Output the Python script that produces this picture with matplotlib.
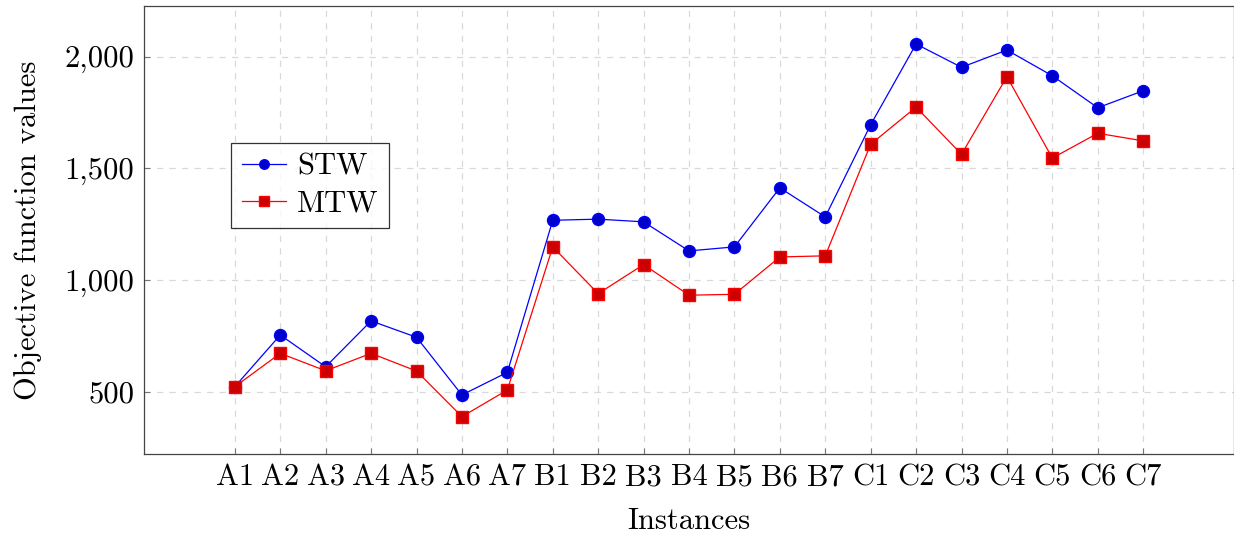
import numpy as np
import matplotlib
matplotlib.use("Agg")
import matplotlib.pyplot as plt
from matplotlib.ticker import FuncFormatter

# data
instances = ["A1", "A2", "A3", "A4", "A5", "A6", "A7",
             "B1", "B2", "B3", "B4", "B5", "B6", "B7",
             "C1", "C2", "C3", "C4", "C5", "C6", "C7"]
stw = [524, 755, 613, 818, 745, 487, 588,
       1268, 1273, 1261, 1131, 1149, 1413, 1283,
       1695, 2056, 1952, 2029, 1914, 1771, 1847]
mtw = [524, 673, 595, 673, 594, 390, 509,
       1149, 940, 1070, 933, 937, 1104, 1109,
       1608, 1774, 1563, 1910, 1546, 1657, 1623]

plt.rcParams['font.family'] = ['cmr10', 'DejaVu Serif']
plt.rcParams['axes.formatter.use_mathtext'] = True

fig = plt.figure(figsize=(12.34, 5.38), dpi=100)
ax = fig.add_axes([144 / 1234, 84 / 538, 1090 / 1234, 448 / 538])

x = np.arange(len(instances))
ax.plot(x, stw, color='blue', linewidth=0.9, marker='o', markersize=8.6,
        markerfacecolor='#0000cc', markeredgecolor='blue', label='STW', zorder=3)
ax.plot(x, mtw, color='red', linewidth=0.9, marker='s', markersize=8.2,
        markerfacecolor='#cc0000', markeredgecolor='red', label='MTW', zorder=3)

ax.set_xlim(-2, len(instances) + 1)
ax.set_ylim(223, 2226)
ax.set_xticks(x)
ax.set_xticklabels(instances)
ax.set_yticks([500, 1000, 1500, 2000])
ax.yaxis.set_major_formatter(FuncFormatter(lambda v, p: f"{int(v):,}"))

ax.grid(True, linestyle=(0, (5, 5)), color='#d9d9d9', linewidth=0.9)
ax.set_axisbelow(True)
ax.tick_params(direction='in', length=4, labelsize=22, color='#777777', pad=7)
for s in ax.spines.values():
    s.set_color('#444444')
    s.set_linewidth(0.9)

ax.set_xlabel("Instances", fontsize=22, labelpad=12)
ax.set_ylabel("Objective function values", fontsize=22, labelpad=16)

leg = ax.legend(loc='upper left', bbox_to_anchor=(0.08, 0.695), fontsize=22,
                frameon=True, fancybox=False, edgecolor='black', markerscale=0.8,
                borderpad=0.35, labelspacing=0.3, handlelength=1.45,
                handletextpad=0.35, borderaxespad=0)
leg.get_frame().set_linewidth(0.9)

fig.savefig("out.png", dpi=100)
